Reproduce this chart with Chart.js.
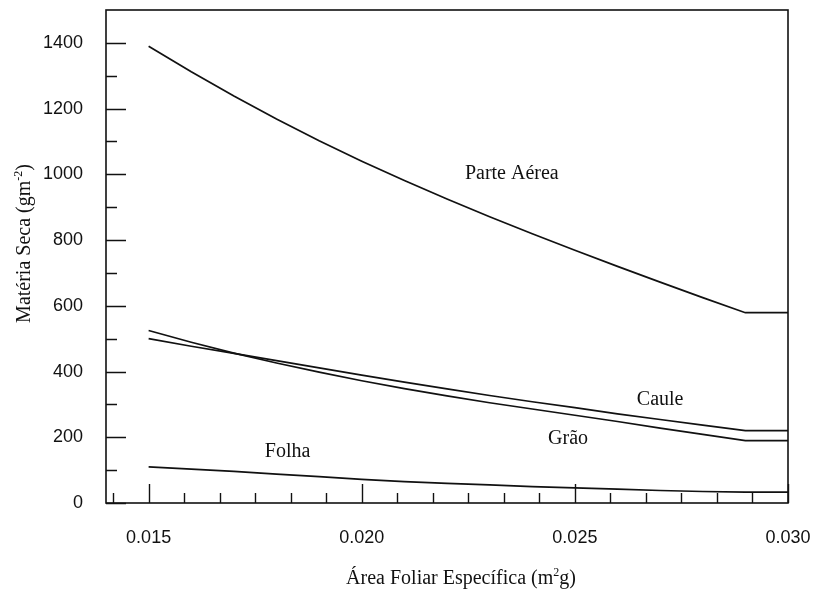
<!DOCTYPE html>
<html><head><meta charset="utf-8">
<script src="https://cdn.jsdelivr.net/npm/chart.js@4/dist/chart.umd.min.js"></script>
<style>html,body{margin:0;padding:0;background:#fff}#wrap{width:816px;height:591px}</style>
</head><body><div id="wrap"><canvas id="c" width="816" height="591"></canvas></div>
<script>
// ---- data ----
const sla        = [0.015,0.016,0.017,0.018,0.019,0.020,0.021,0.022,0.023,0.024,0.025,0.026,0.027,0.028,0.029,0.030];
const parteAerea = [1390,1312,1238,1168,1102,1040, 981, 925, 871, 819, 769, 720, 672, 625, 579, 579];
const caule      = [ 500, 477, 455, 433, 411, 389, 368, 347, 327, 308, 290, 271, 254, 237, 220, 220];
const grao       = [ 525, 489, 456, 426, 398, 372, 348, 326, 305, 286, 267, 248, 228, 209, 190, 190];
const folha      = [ 110, 103,  96,  88,  80,  72,  65,  60,  55,  50,  46,  42,  38,  35,  33,  33];
const seriesNames = ['Parte Aérea','Caule','Grão','Folha'];
const xTickValues = [0.015,0.020,0.025,0.030];
const yTickValues = [0,200,400,600,800,1000,1200,1400];
// axis titles: [text before superscript, superscript, text after]
const xTitleParts = ['Área Foliar Específica (m','2','g)'];
const yTitleParts = ['Matéria Seca (gm','-2',')'];
// in-plot labels, anchored in data coordinates
const labelX = [0.02352,0.0270,0.02484,0.01826];
const labelY = [1001,315,194,157];

// ---- styles ----
const INK = '#111';
const SERIF = '"Liberation Serif", "Times New Roman", serif';
const SANS = '"Liberation Sans", Arial, sans-serif';
const xMinorPerMajor = 6, yMinorPerMajor = 2;

const toPts = arr => sla.map((x,i)=>({x, y: arr[i]}));
const mk = (name, arr) => ({label:name, data: toPts(arr), borderColor: INK, borderWidth: 1.7,
  pointRadius: 0, fill:false, tension:0});

function drawSupText(ctx, parts, size){
  const supSize = Math.round(size*0.62);
  ctx.font = size+'px '+SERIF; const w0 = ctx.measureText(parts[0]).width;
  const w2 = ctx.measureText(parts[2]).width;
  ctx.font = supSize+'px '+SERIF; const w1 = ctx.measureText(parts[1]).width;
  let x = -(w0+w1+w2)/2;
  ctx.textAlign = 'left'; ctx.textBaseline = 'alphabetic';
  ctx.font = size+'px '+SERIF; ctx.fillText(parts[0], x, 0); x += w0;
  ctx.font = supSize+'px '+SERIF; ctx.fillText(parts[1], x, -size*0.4); x += w1;
  ctx.font = size+'px '+SERIF; ctx.fillText(parts[2], x, 0);
}

const frameAndTicks = {
  id:'frameAndTicks',
  afterDraw(chart){
    const {ctx, chartArea:a, scales:{x, y}} = chart;
    ctx.save();
    ctx.strokeStyle = INK; ctx.lineWidth = 1.6;
    ctx.strokeRect(a.left, a.top, a.right-a.left, a.bottom-a.top);
    ctx.lineWidth = 1.4;
    ctx.beginPath();
    const xStep = (xTickValues[1]-xTickValues[0])/xMinorPerMajor;
    for (let k=-xMinorPerMajor; k<=(xTickValues.length-1)*xMinorPerMajor; k++){
      const v = xTickValues[0] + k*xStep;
      if (v < x.min - 1e-9 || v > x.max + 1e-9) continue;
      const px = Math.round(x.getPixelForValue(v))+0.5;
      const len = (k % xMinorPerMajor === 0) ? 19 : 10;
      ctx.moveTo(px, a.bottom); ctx.lineTo(px, a.bottom-len);
    }
    const yStep = (yTickValues[1]-yTickValues[0])/yMinorPerMajor;
    for (let k=0; k<=(yTickValues.length-1)*yMinorPerMajor; k++){
      const v = yTickValues[0] + k*yStep;
      const py = Math.round(y.getPixelForValue(v))+0.5;
      const len = (k % yMinorPerMajor === 0) ? 20 : 11;
      ctx.moveTo(a.left, py); ctx.lineTo(a.left+len, py);
    }
    ctx.stroke();
    ctx.fillStyle = INK;
    ctx.font = '20px '+SERIF;
    ctx.textAlign = 'center'; ctx.textBaseline = 'middle';
    seriesNames.forEach((n,i)=>{
      ctx.fillText(n, x.getPixelForValue(labelX[i]), y.getPixelForValue(labelY[i]));
    });
    // axis titles
    ctx.save(); ctx.translate((a.left+a.right)/2 + 14, 584); drawSupText(ctx, xTitleParts, 20); ctx.restore();
    ctx.save(); ctx.translate(30, (a.top+a.bottom)/2 - 13); ctx.rotate(-Math.PI/2); drawSupText(ctx, yTitleParts, 20); ctx.restore();
    ctx.restore();
  }
};

const noPad = s => { s.paddingLeft = 0; s.paddingRight = 0; s.paddingTop = 0; s.paddingBottom = 0; };

new Chart(document.getElementById('c'), {
  type:'line',
  data:{ datasets:[mk(seriesNames[0],parteAerea), mk(seriesNames[1],caule), mk(seriesNames[2],grao), mk(seriesNames[3],folha)] },
  options:{
    responsive:false, animation:false, devicePixelRatio:1,
    layout:{ padding:{ top:10, right:28, left:0, bottom:0 } },
    plugins:{ legend:{display:false}, tooltip:{enabled:false} },
    scales:{
      x:{ type:'linear', min:0.014, max:0.030,
        grid:{display:false, drawTicks:false}, border:{display:false},
        afterBuildTicks: s => { s.ticks = xTickValues.map(v=>({value:v})); },
        afterFit: s => { s.height = 88; noPad(s); },
        ticks:{ color:INK, padding:24, maxRotation:0, autoSkip:false,
          font:{family:SANS, size:18},
          callback: v => Number(v).toFixed(3) }
      },
      y:{ type:'linear', min:0, max:1500,
        grid:{display:false, drawTicks:false}, border:{display:false},
        afterBuildTicks: s => { s.ticks = yTickValues.map(v=>({value:v})); },
        afterFit: s => { s.width = 106; noPad(s); },
        ticks:{ color:INK, padding:23, autoSkip:false,
          font:{family:SANS, size:18},
          callback: v => String(v) }
      }
    }
  },
  plugins:[frameAndTicks]
});
</script></body></html>
